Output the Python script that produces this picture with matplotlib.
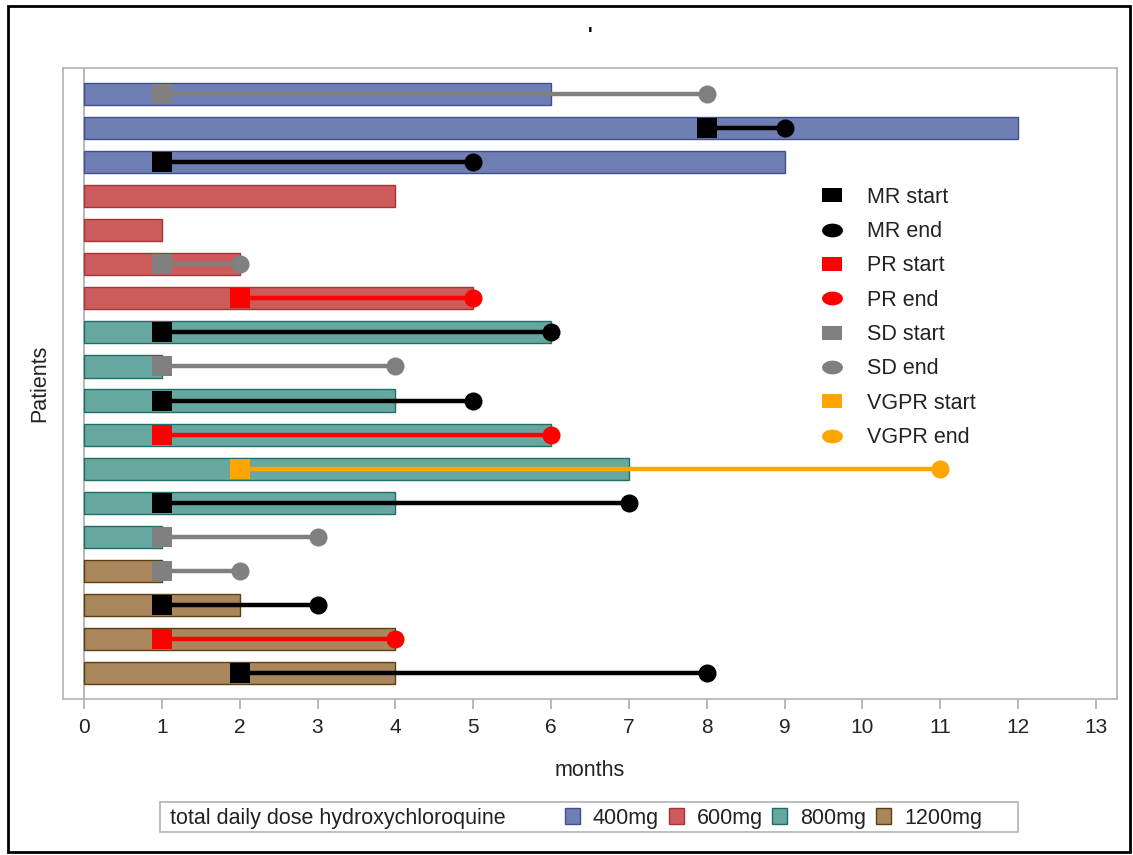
import matplotlib
matplotlib.use("Agg")
import matplotlib.pyplot as plt
from matplotlib.lines import Line2D
from matplotlib.patches import Rectangle, Patch
from matplotlib.path import Path
import numpy as np

plt.rcParams['font.family'] = ['Liberation Sans', 'DejaVu Sans']

# ---- data ----
doses = ["400mg", "400mg", "400mg", "600mg", "600mg", "600mg", "600mg",
         "800mg", "800mg", "800mg", "800mg", "800mg", "800mg", "800mg",
         "1200mg", "1200mg", "1200mg", "1200mg"]
durations = [6, 12, 9, 4, 1, 2, 5, 6, 1, 4, 6, 7, 4, 1, 1, 2, 4, 4]
responses = ["SD", "MR", "MR", None, None, "SD", "PR", "MR", "SD", "MR", "PR",
             "VGPR", "MR", "SD", "SD", "MR", "PR", "MR"]
resp_start = [1, 8, 1, None, None, 1, 2, 1, 1, 1, 1, 2, 1, 1, 1, 1, 1, 2]
resp_end = [8, 9, 5, None, None, 2, 5, 6, 4, 5, 6, 11, 7, 3, 2, 3, 4, 8]

dose_levels = ["400mg", "600mg", "800mg", "1200mg"]
dose_fill = {"400mg": "#6F7EB3", "600mg": "#CD5B5B", "800mg": "#66A8A0", "1200mg": "#A9865C"}
dose_edge = {"400mg": "#3F4F93", "600mg": "#A33535", "800mg": "#1F6F68", "1200mg": "#5E3F12"}
resp_levels = ["MR", "PR", "SD", "VGPR"]
resp_color = {"MR": "black", "PR": "#FF0000", "SD": "#808080", "VGPR": "#FFA500"}

FS = 15.5
TXT = '#222222'
W, H = 1133, 855
fig = plt.figure(figsize=(W / 100, H / 100), dpi=100)
ax = fig.add_axes([63 / W, 1 - 699 / H, (1117 - 63) / W, (699 - 68) / H])

n = len(durations)
y = np.arange(n)
ax.barh(y, durations, height=0.65, left=0,
        color=[dose_fill[d] for d in doses],
        edgecolor=[dose_edge[d] for d in doses], linewidth=1.0, zorder=2)

for i in range(n):
    r = responses[i]
    if r is None:
        continue
    c = resp_color[r]
    ax.plot([resp_start[i], resp_end[i]], [i, i], color=c, lw=3.2, zorder=3,
            solid_capstyle='butt')
    ax.plot([resp_start[i]], [i], marker='s', color=c, markersize=14, zorder=4, mew=0)
    ax.plot([resp_end[i]], [i], marker='o', color=c, markersize=13, zorder=4, mew=0)

ax.axvline(0, color='#A8ACB0', lw=1.2, zorder=1)
ax.set_xlim(-0.27, 13.27)
ax.set_ylim(n - 1 + 0.76, -0.76)
ax.set_yticks([])
ax.set_xticks(range(0, 14))
ax.tick_params(axis='x', direction='out', length=7, width=1.2, color='#A8ACB0',
               labelsize=FS - 0.5, labelcolor=TXT, pad=7)
for s in ax.spines.values():
    s.set_color('#B0B4B8')
    s.set_linewidth(1.2)
ax.set_xlabel("months", fontsize=FS, color=TXT, labelpad=16)
ax.set_ylabel("Patients", fontsize=FS, color=TXT, labelpad=9)

# legend markers (wide rectangle / ellipse)
rect_path = Path([(-0.5, -0.32), (0.5, -0.32), (0.5, 0.32), (-0.5, 0.32), (-0.5, -0.32)],
                 [Path.MOVETO, Path.LINETO, Path.LINETO, Path.LINETO, Path.CLOSEPOLY])
t = np.linspace(0, 2 * np.pi, 60)
ell_path = Path(np.column_stack([0.5 * np.cos(t), 0.33 * np.sin(t)]))
handles = []
for r in resp_levels:
    handles.append(Line2D([], [], linestyle='none', marker=rect_path, markersize=15,
                          color=resp_color[r], mew=0, label=f"{r} start"))
    handles.append(Line2D([], [], linestyle='none', marker=ell_path, markersize=15,
                          color=resp_color[r], mew=0, label=f"{r} end"))
leg = ax.legend(handles=handles, loc='upper left',
                bbox_to_anchor=((806 - 63) / 1054, (699 - 176) / 631),
                frameon=False, fontsize=FS, labelspacing=0.62, handlelength=1.4,
                handletextpad=0.95, borderpad=0)
for tx in leg.get_texts():
    tx.set_color(TXT)

# bottom dose legend
fig.patches.append(Rectangle((160 / W, 1 - 832 / H), (1018 - 160) / W, 30 / H,
                             transform=fig.transFigure, fill=False,
                             edgecolor='#B0B4B8', lw=1.2))
fig.text(170 / W, 1 - 818 / H, "total daily dose hydroxychloroquine", fontsize=FS,
         color=TXT, va='center', ha='left')
dose_handles = [Patch(facecolor=dose_fill[d], edgecolor=dose_edge[d], label=d) for d in dose_levels]
leg2 = fig.legend(handles=dose_handles, loc='center left',
                  bbox_to_anchor=(554 / W, 1 - 818 / H), ncol=4, frameon=False,
                  fontsize=FS, handlelength=0.7, handleheight=0.8,
                  handletextpad=0.6, columnspacing=0.45, borderpad=0)
for tx in leg2.get_texts():
    tx.set_color(TXT)

# title mark
fig.text(590 / W, 1 - 35 / H, "'", fontsize=14, fontweight='bold', ha='center', va='center')

# outer frame
fig.patches.append(Rectangle((8 / W, 3 / H), (1130 - 8) / W, (852 - 6) / H,
                             transform=fig.transFigure, fill=False,
                             edgecolor='black', lw=2))

fig.savefig("out.png", dpi=100)
